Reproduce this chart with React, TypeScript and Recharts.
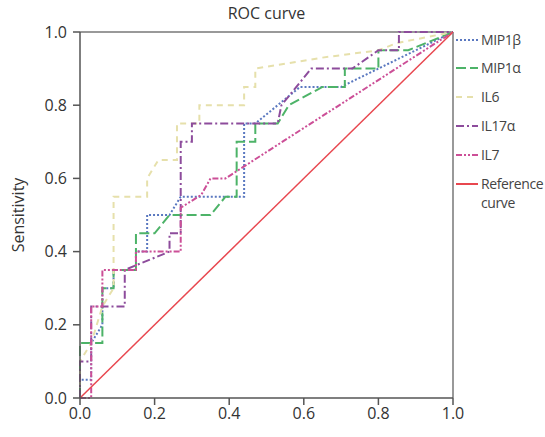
import { LineChart, Line, XAxis, YAxis, ReferenceLine } from 'recharts'

// false positive rate (1 - specificity) / sensitivity
const mip1bFpr = [0, 0, 0.03, 0.03, 0.06, 0.06, 0.09, 0.09, 0.15, 0.15, 0.18, 0.18, 0.24, 0.27, 0.44, 0.44, 0.47, 0.53, 0.59, 0.7, 1]
const mip1bSens = [0, 0.05, 0.05, 0.15, 0.2, 0.3, 0.3, 0.35, 0.35, 0.4, 0.4, 0.5, 0.5, 0.55, 0.55, 0.75, 0.75, 0.8, 0.85, 0.85, 1]

const mip1aFpr = [0, 0, 0.06, 0.06, 0.09, 0.09, 0.15, 0.15, 0.2, 0.24, 0.35, 0.39, 0.42, 0.42, 0.47, 0.47, 0.53, 0.56, 0.65, 0.71, 0.71, 0.8, 0.8, 0.88, 1]
const mip1aSens = [0, 0.15, 0.15, 0.3, 0.3, 0.35, 0.35, 0.45, 0.45, 0.5, 0.5, 0.55, 0.55, 0.7, 0.7, 0.75, 0.75, 0.8, 0.85, 0.85, 0.9, 0.9, 0.95, 0.95, 1]

const il6Fpr = [0, 0, 0.03, 0.06, 0.09, 0.09, 0.18, 0.18, 0.21, 0.26, 0.26, 0.32, 0.32, 0.44, 0.44, 0.47, 0.47, 0.65, 0.8, 0.85, 1]
const il6Sens = [0, 0.1, 0.15, 0.25, 0.3, 0.55, 0.55, 0.6, 0.65, 0.65, 0.75, 0.75, 0.8, 0.8, 0.85, 0.85, 0.9, 0.93, 0.95, 0.97, 1]

const il17aFpr = [0, 0, 0.03, 0.03, 0.12, 0.12, 0.24, 0.24, 0.27, 0.27, 0.3, 0.3, 0.53, 0.54, 0.62, 0.73, 0.8, 0.855, 0.855, 1]
const il17aSens = [0, 0.1, 0.1, 0.25, 0.25, 0.35, 0.4, 0.45, 0.45, 0.7, 0.7, 0.75, 0.75, 0.8, 0.9, 0.9, 0.95, 0.95, 1, 1]

const il7Fpr = [0, 0.03, 0.03, 0.06, 0.06, 0.15, 0.15, 0.27, 0.27, 0.325, 0.35, 0.39, 1]
const il7Sens = [0, 0, 0.25, 0.25, 0.35, 0.35, 0.4, 0.4, 0.52, 0.555, 0.6, 0.6, 1]

const refFpr = [0, 1]
const refSens = [0, 1]

const ticks = [0, 0.2, 0.4, 0.6, 0.8, 1]

const toPoints = (xs: number[], ys: number[]) => xs.map((x, i) => ({ fpr: x, sens: ys[i] }))

const series = [
  { name: 'MIP1β', data: toPoints(mip1bFpr, mip1bSens), color: '#5a78c0', dash: '2 2', width: 2 },
  { name: 'MIP1α', data: toPoints(mip1aFpr, mip1aSens), color: '#4db368', dash: '10 4', width: 2 },
  { name: 'IL6', data: toPoints(il6Fpr, il6Sens), color: '#e6e0ab', dash: '6 5', width: 2 },
  { name: 'IL17α', data: toPoints(il17aFpr, il17aSens), color: '#8d4c9c', dash: '8 3 2 3', width: 2 },
  { name: 'IL7', data: toPoints(il7Fpr, il7Sens), color: '#cc4f97', dash: '6 2 2 2 2 2', width: 2 },
  { name: 'Reference curve', data: toPoints(refFpr, refSens), color: '#e8474f', dash: undefined, width: 1.5 },
]

const font = '"Open Sans", "Noto Sans", sans-serif'
const legendRows = [40, 68, 97, 126, 155, 184]

export default function App() {
  return (
    <div style={{ position: 'absolute', left: 0, top: 0, width: 545, height: 437, background: '#fff', fontFamily: font }}>
      <div style={{ position: 'absolute', left: 0, top: 2, width: 533, textAlign: 'center', fontSize: 16, color: '#333' }}>
        ROC curve
      </div>
      <LineChart width={545} height={437} margin={{ top: 32, right: 92, bottom: 0, left: 26 }}>
        <XAxis
          type="number"
          dataKey="fpr"
          domain={[0, 1]}
          ticks={ticks}
          tickFormatter={(v: number) => v.toFixed(1)}
          height={39}
          tickSize={7}
          tickMargin={3}
          stroke="#555"
          strokeWidth={1.5}
          tick={{ fill: '#333', fontSize: 16, fontFamily: font }}
          allowDuplicatedCategory={false}
        />
        <YAxis
          type="number"
          dataKey="sens"
          domain={[0, 1]}
          ticks={ticks}
          tickFormatter={(v: number) => v.toFixed(1)}
          width={54}
          tickSize={7}
          tickMargin={6}
          stroke="#555"
          strokeWidth={1.5}
          tick={{ fill: '#333', fontSize: 16, fontFamily: font }}
          label={{ value: 'Sensitivity', angle: -90, position: 'insideLeft', offset: -8, style: { fill: '#333', fontSize: 16, fontFamily: font, textAnchor: 'middle' } }}
        />
        <ReferenceLine y={1} stroke="#777" strokeWidth={1.5} />
        <ReferenceLine x={1} stroke="#777" strokeWidth={1.5} />
        {series.map((s) => (
          <Line
            key={s.name}
            data={s.data}
            dataKey="sens"
            type="linear"
            stroke={s.color}
            strokeWidth={s.width}
            strokeDasharray={s.dash}
            dot={false}
            isAnimationActive={false}
          />
        ))}
      </LineChart>
      {series.map((s, i) => (
        <div key={s.name} style={{ position: 'absolute', left: 456, top: legendRows[i] - 10, display: 'flex', alignItems: 'flex-start' }}>
          <svg width={23} height={20} style={{ flex: 'none' }}>
            <line x1={0} y1={10} x2={22} y2={10} stroke={s.color} strokeWidth={2} strokeDasharray={s.dash} />
          </svg>
          <div style={{ marginLeft: 2, fontSize: 14, letterSpacing: -0.4, color: '#444', lineHeight: '19px', width: 62 }}>{s.name}</div>
        </div>
      ))}
    </div>
  )
}
